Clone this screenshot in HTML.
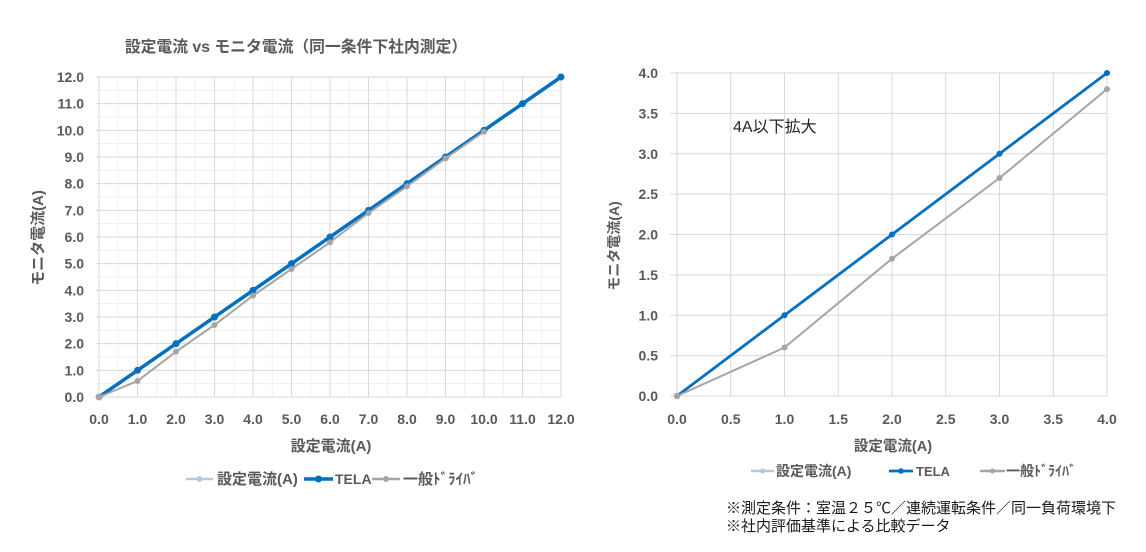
<!DOCTYPE html>
<html><head><meta charset="utf-8"><style>
html,body{margin:0;padding:0;background:#fff;}
svg{display:block;}
text{font-family:"Liberation Sans","Noto Sans CJK JP",sans-serif;}
.t{font-size:14px;font-weight:bold;fill:#595959;}
.ax{font-size:15px;font-weight:bold;fill:#595959;}
.lg{font-size:15px;font-weight:bold;fill:#595959;}
</style></head><body>
<svg width="1146" height="552" viewBox="0 0 1146 552" xmlns="http://www.w3.org/2000/svg">
<rect width="1146" height="552" fill="#fff"/>
<!-- LEFT CHART -->
<text x="296" y="52" text-anchor="middle" style="font-size:15.8px;font-weight:bold;fill:#595959">設定電流 vs モニタ電流（同一条件下社内測定）</text>
<path stroke="#efefef" stroke-width="1" fill="none" d="M118.25 77V397M156.75 77V397M195.25 77V397M233.75 77V397M272.25 77V397M310.75 77V397M349.25 77V397M387.75 77V397M426.25 77V397M464.75 77V397M503.25 77V397M541.75 77V397M96 383.67H561M96 357H561M96 330.33H561M96 303.67H561M96 277H561M96 250.33H561M96 223.67H561M96 197H561M96 170.33H561M96 143.67H561M96 117H561M96 90.33H561"/>
<path stroke="#d9d9d9" stroke-width="1" fill="none" d="M99 77V397M137.5 77V397M176 77V397M214.5 77V397M253 77V397M291.5 77V397M330 77V397M368.5 77V397M407 77V397M445.5 77V397M484 77V397M522.5 77V397M561 77V397M96 397H561M96 370.33H561M96 343.67H561M96 317H561M96 290.33H561M96 263.67H561M96 237H561M96 210.33H561M96 183.67H561M96 157H561M96 130.33H561M96 103.67H561M96 77H561"/>
<g class="t" text-anchor="end">
<text x="84" y="402">0.0</text><text x="84" y="375.3">1.0</text><text x="84" y="348.7">2.0</text><text x="84" y="322">3.0</text><text x="84" y="295.3">4.0</text><text x="84" y="268.7">5.0</text><text x="84" y="242">6.0</text><text x="84" y="215.3">7.0</text><text x="84" y="188.7">8.0</text><text x="84" y="162">9.0</text><text x="84" y="135.3">10.0</text><text x="84" y="108.7">11.0</text><text x="84" y="82">12.0</text>
</g>
<g class="t" text-anchor="middle">
<text x="99" y="424">0.0</text><text x="137.5" y="424">1.0</text><text x="176" y="424">2.0</text><text x="214.5" y="424">3.0</text><text x="253" y="424">4.0</text><text x="291.5" y="424">5.0</text><text x="330" y="424">6.0</text><text x="368.5" y="424">7.0</text><text x="407" y="424">8.0</text><text x="445.5" y="424">9.0</text><text x="484" y="424">10.0</text><text x="522.5" y="424">11.0</text><text x="561" y="424">12.0</text>
</g>
<text class="ax" x="331" y="451" text-anchor="middle">設定電流(A)</text>
<text class="ax" x="0" y="0" text-anchor="middle" transform="translate(43,238) rotate(-90)">モニタ電流(A)</text>
<polyline fill="none" stroke="#b4c7e7" stroke-width="2" points="99,397 561,77"/>
<polyline fill="none" stroke="#0070c0" stroke-width="3.5" points="99,397 561,77"/>
<g fill="#0070c0">
<circle cx="137.5" cy="370.33" r="3.5"/><circle cx="176" cy="343.67" r="3.5"/><circle cx="214.5" cy="317" r="3.5"/><circle cx="253" cy="290.33" r="3.5"/><circle cx="291.5" cy="263.67" r="3.5"/><circle cx="330" cy="237" r="3.5"/><circle cx="368.5" cy="210.33" r="3.5"/><circle cx="407" cy="183.67" r="3.5"/><circle cx="445.5" cy="157" r="3.5"/><circle cx="484" cy="130.33" r="3.5"/><circle cx="522.5" cy="103.67" r="3.5"/><circle cx="561" cy="77" r="3.5"/>
</g>
<polyline fill="none" stroke="#a5a5a5" stroke-width="2" points="99,397 137.5,381 176,351.67 214.5,325 253,295.67 291.5,269 330,242.33 368.5,213 407,186.33 445.5,158.33 484,131.67"/>
<g fill="#a5a5a5">
<circle cx="99" cy="397" r="3.5"/><circle cx="137.5" cy="381" r="3"/><circle cx="176" cy="351.67" r="3"/><circle cx="214.5" cy="325" r="3"/><circle cx="253" cy="295.67" r="3"/><circle cx="291.5" cy="269" r="3"/><circle cx="330" cy="242.33" r="3"/><circle cx="368.5" cy="213" r="3"/><circle cx="407" cy="186.33" r="3"/><circle cx="445.5" cy="158.33" r="3"/><circle cx="484" cy="131.67" r="3"/>
</g>
<line x1="186" y1="479" x2="213" y2="479" stroke="#b4c7e7" stroke-width="2.5"/><circle cx="199.5" cy="479" r="3" fill="#b4c7e7"/>
<text class="lg" x="217" y="484">設定電流(A)</text>
<line x1="304" y1="479" x2="333" y2="479" stroke="#0070c0" stroke-width="3.5"/><circle cx="318.5" cy="479" r="3.5" fill="#0070c0"/>
<text class="lg" x="335" y="484" style="font-size:14px">TELA</text>
<line x1="372" y1="479" x2="400" y2="479" stroke="#a5a5a5" stroke-width="2.5"/><circle cx="386" cy="479" r="3" fill="#a5a5a5"/>
<text class="lg" x="403" y="484">一般ﾄﾞﾗｲﾊﾞ</text>

<!-- RIGHT CHART -->
<path stroke="#d9d9d9" stroke-width="1" fill="none" d="M677 73V396M730.75 73V396M784.5 73V396M838.25 73V396M892 73V396M945.75 73V396M999.5 73V396M1053.25 73V396M1107 73V396M670 396H1107M670 355.63H1107M670 315.25H1107M670 274.88H1107M670 234.5H1107M670 194.13H1107M670 153.75H1107M670 113.38H1107M670 73H1107"/>
<g class="t" text-anchor="end">
<text x="658" y="401">0.0</text><text x="658" y="360.6">0.5</text><text x="658" y="320.3">1.0</text><text x="658" y="279.9">1.5</text><text x="658" y="239.5">2.0</text><text x="658" y="199.1">2.5</text><text x="658" y="158.8">3.0</text><text x="658" y="118.4">3.5</text><text x="658" y="78">4.0</text>
</g>
<g class="t" text-anchor="middle">
<text x="677" y="424">0.0</text><text x="730.75" y="424">0.5</text><text x="784.5" y="424">1.0</text><text x="838.25" y="424">1.5</text><text x="892" y="424">2.0</text><text x="945.75" y="424">2.5</text><text x="999.5" y="424">3.0</text><text x="1053.25" y="424">3.5</text><text x="1107" y="424">4.0</text>
</g>
<text class="ax" x="893" y="451" text-anchor="middle" style="font-size:14.5px">設定電流(A)</text>
<text class="ax" x="0" y="0" text-anchor="middle" transform="translate(619,246) rotate(-90)" style="font-size:14px">モニタ電流(A)</text>
<text x="733" y="132" style="font-size:16px;fill:#262626">4A以下拡大</text>
<polyline fill="none" stroke="#b4c7e7" stroke-width="2" points="677,396 1107,73"/>
<polyline fill="none" stroke="#0070c0" stroke-width="2.8" points="677,396 1107,73"/>
<g fill="#0070c0">
<circle cx="784.5" cy="315.25" r="3"/><circle cx="892" cy="234.5" r="3"/><circle cx="999.5" cy="153.75" r="3"/><circle cx="1107" cy="73" r="3"/>
</g>
<polyline fill="none" stroke="#a5a5a5" stroke-width="2" points="677,396 784.5,347.55 892,258.7 999.5,178 1107,89.15"/>
<g fill="#a5a5a5">
<circle cx="677" cy="396" r="3.2"/><circle cx="784.5" cy="347.55" r="3"/><circle cx="892" cy="258.7" r="3"/><circle cx="999.5" cy="178" r="3"/><circle cx="1107" cy="89.15" r="3"/>
</g>
<line x1="751" y1="471" x2="774" y2="471" stroke="#b4c7e7" stroke-width="2.5"/><circle cx="762.5" cy="471" r="2.5" fill="#b4c7e7"/>
<text class="lg" x="776" y="476" style="font-size:14px">設定電流(A)</text>
<line x1="889" y1="471" x2="913" y2="471" stroke="#0070c0" stroke-width="2.8"/><circle cx="901" cy="471" r="2.8" fill="#0070c0"/>
<text class="lg" x="916" y="476" style="font-size:13px">TELA</text>
<line x1="980" y1="471" x2="1005" y2="471" stroke="#a5a5a5" stroke-width="2.5"/><circle cx="992.5" cy="471" r="2.5" fill="#a5a5a5"/>
<text class="lg" x="1006" y="476" style="font-size:14px">一般ﾄﾞﾗｲﾊﾞ</text>
<text x="726" y="513" style="font-size:15px;fill:#1a1a1a">※測定条件：室温２５℃／連続運転条件／同一負荷環境下</text>
<text x="726" y="531" style="font-size:15px;fill:#1a1a1a">※社内評価基準による比較データ</text>
</svg>
</body></html>
